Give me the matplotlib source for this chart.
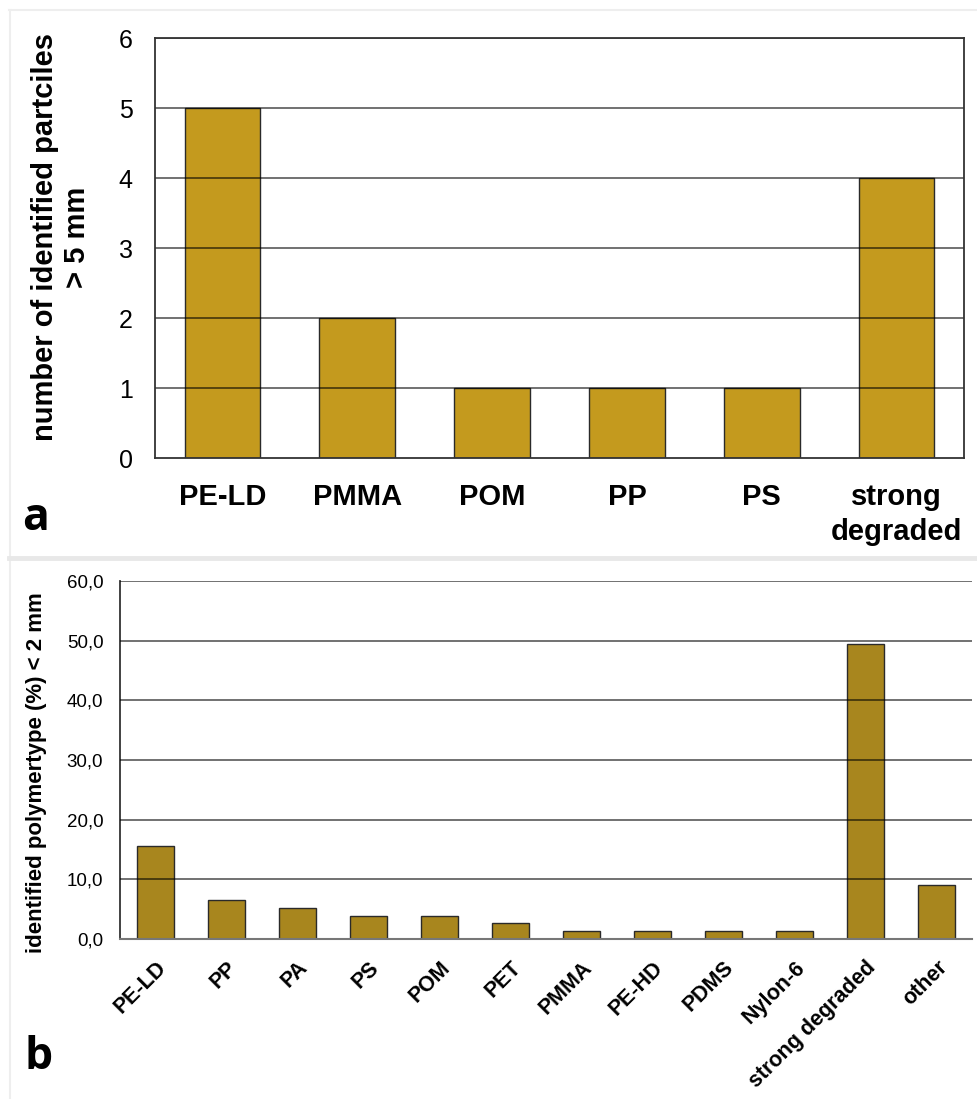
import matplotlib
matplotlib.use("Agg")
import matplotlib.pyplot as plt
from matplotlib.lines import Line2D
from matplotlib.ticker import FuncFormatter

# ---- data ----
cats_a = ["PE-LD", "PMMA", "POM", "PP", "PS", "strong\ndegraded"]
vals_a = [5, 2, 1, 1, 1, 4]
yticks_a = [0, 1, 2, 3, 4, 5, 6]

cats_b = ["PE-LD", "PP", "PA", "PS", "POM", "PET", "PMMA", "PE-HD", "PDMS",
          "Nylon-6", "strong degraded", "other"]
vals_b = [15.6, 6.5, 5.2, 3.9, 3.9, 2.6, 1.3, 1.3, 1.3, 1.3, 49.4, 9.1]
yticks_b = [0, 10, 20, 30, 40, 50, 60]

plt.rcParams['font.family'] = ['Liberation Sans', 'DejaVu Sans']

W, H = 977, 1099
fig = plt.figure(figsize=(W / 100, H / 100), dpi=100)
fig.patch.set_facecolor("white")

def fx(px):
    return px / W

def fy(py):
    return 1 - py / H

# frame decorations
fig.add_artist(Line2D([fx(9), 1], [fy(10), fy(10)], color="#EEEEEE", lw=1.5))
fig.add_artist(Line2D([fx(9.5), fx(9.5)], [fy(10), 0], color="#EEEEEE", lw=1.5))
fig.add_artist(Line2D([fx(9), 1], [fy(558), fy(558)], color="#E8E8E8", lw=3.5))

# ---- panel a ----
ax1 = fig.add_axes([fx(155), fy(458), fx(964) - fx(155), fy(38) - fy(458)])
x_a = list(range(len(cats_a)))
ax1.bar(x_a, vals_a, width=0.56, color="#C49A1E", edgecolor="#2a2a2a",
        linewidth=1.0, zorder=2)
ax1.set_xlim(-0.5, len(cats_a) - 0.5)
ax1.set_ylim(0, 6)
ax1.set_yticks(yticks_a)
for t in yticks_a[1:]:
    ax1.axhline(t, color="black", alpha=0.6, lw=1.3, zorder=3)
ax1.set_xticks(x_a)
ax1.set_xticklabels(cats_a, fontsize=21, fontweight="bold", linespacing=1.3)
ax1.tick_params(axis="x", length=0, pad=18)
ax1.tick_params(axis="y", length=0, pad=16, labelsize=18)
for s in ax1.spines.values():
    s.set_color("#333333")
    s.set_linewidth(1.3)
    s.set_zorder(4)
fig.text(fx(61), fy(237), "number of identified partciles\n> 5 mm", rotation=90,
         ha="center", va="center", fontsize=21, fontweight="bold",
         multialignment="center", linespacing=1.15)

# ---- panel b ----
ax2 = fig.add_axes([fx(120), fy(939), fx(972) - fx(120), fy(581) - fy(939)])
x_b = list(range(len(cats_b)))
ax2.bar(x_b, vals_b, width=0.51, color="#A8861E", edgecolor="#2a2a2a",
        linewidth=1.0, zorder=2)
ax2.set_xlim(-0.5, len(cats_b) - 0.5)
ax2.set_ylim(0, 60)
ax2.set_yticks(yticks_b)
ax2.yaxis.set_major_formatter(FuncFormatter(lambda v, p: f"{v:.1f}".replace(".", ",")))
for t in yticks_b[1:]:
    ax2.axhline(t, color="black", alpha=0.6, lw=1.3, zorder=3)
ax2.set_xticks(x_b)
ax2.set_xticklabels(cats_b, fontsize=15.5, fontweight="bold", rotation=45,
                    ha="right", va="top", rotation_mode="anchor")
ax2.tick_params(axis="x", length=0, pad=13)
ax2.tick_params(axis="y", length=0, pad=12, labelsize=13.5)
for name in ["top", "right"]:
    ax2.spines[name].set_visible(False)
ax2.spines["left"].set_color("#333333")
ax2.spines["left"].set_linewidth(1.3)
ax2.spines["bottom"].set_color("#777777")
ax2.spines["bottom"].set_linewidth(1.5)
fig.text(fx(37), fy(773), "identified polymertype (%) < 2 mm", rotation=90,
         ha="center", va="center", fontsize=16, fontweight="bold")

# panel letters
fig.text(fx(22), fy(530), "a", fontsize=32, fontweight="bold",
         family=["Open Sans", "DejaVu Sans"], ha="left", va="baseline")
fig.text(fx(24), fy(1069), "b", fontsize=32, fontweight="bold",
         family=["Open Sans", "DejaVu Sans"], ha="left", va="baseline")

fig.savefig("out.png", dpi=100, facecolor="white")
